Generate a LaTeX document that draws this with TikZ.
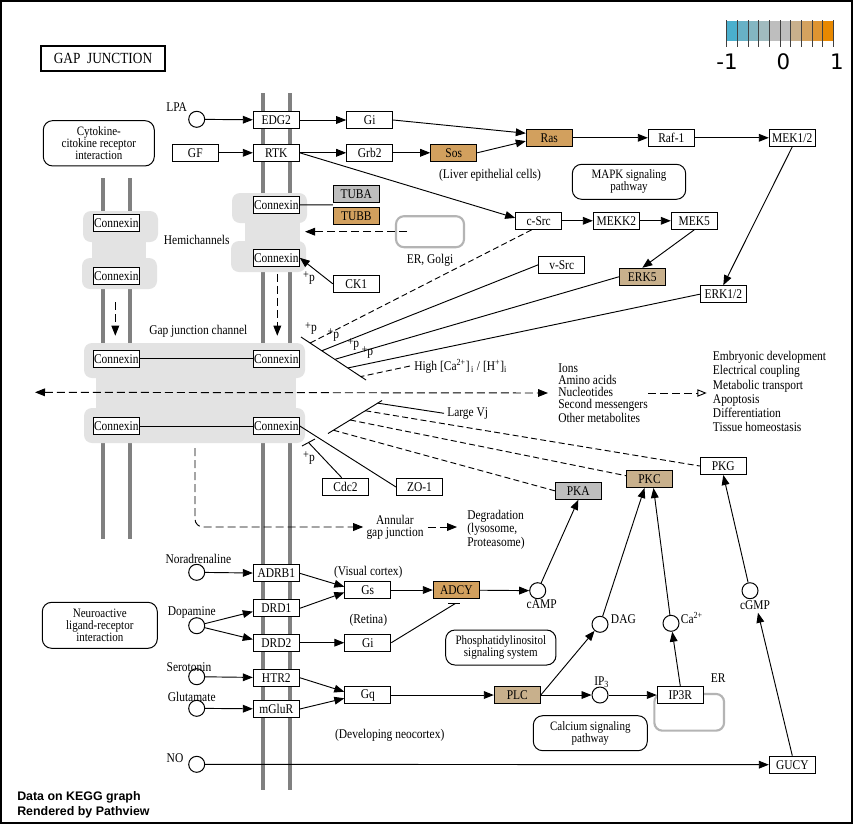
\documentclass[tikz,border=0pt]{standalone}
\usepackage{fontspec}
\setmainfont{Liberation Serif}[FakeStretch=0.86]
\newfontfamily\legfont{DejaVu Sans}
\newfontfamily\pvfont{Liberation Sans}
\usetikzlibrary{arrows.meta,calc}
\definecolor{up2}{HTML}{D2A05E}
\definecolor{up1}{HTML}{C8B08C}
\definecolor{nd}{HTML}{BEBEBE}
\definecolor{blob}{HTML}{E3E3E3}
\definecolor{ergray}{HTML}{B4B4B4}
\definecolor{membr}{HTML}{808080}
\newcommand{\plusp}{\raisebox{1.6pt}{\fontsize{9}{9}\selectfont+}p}
\begin{document}
\begin{tikzpicture}[x=0.75pt,y=-0.75pt,
  every node/.style={font=\fontsize{10}{10}\selectfont, inner sep=0pt},
  gene/.style={draw, line width=0.75pt, fill=white, minimum width=34.5pt, minimum height=12.75pt},
  cpd/.style={circle, draw, line width=0.75pt, fill=white, minimum size=12pt},
  pathbox/.style={draw, line width=0.75pt, rounded corners=7pt, align=center, font=\fontsize{9.6}{8.9}\selectfont},
  lbl/.style={align=center},
  conn/.style={line width=0.7pt},
  arr/.style={conn, -{Triangle[length=7.5pt,width=5.8pt]}},
  dconn/.style={conn, dash pattern=on 4.5pt off 2.5pt},
  darr/.style={conn, dash pattern=on 6pt off 3pt, -{Triangle[length=7.5pt,width=5.8pt]}},
  membrane/.style={membr, line width=3pt},
  ergbox/.style={draw=ergray, line width=1.6pt, rounded corners=6pt}
]
\useasboundingbox (0,0) rectangle (855,825);
\fill[white] (0,0) rectangle (855,825);
\draw[line width=1.5pt] (1,1) rectangle (852,822.5);

% membranes
\foreach \x in {263,290} \draw[membrane] (\x,93) -- (\x,790);
\foreach \x in {103,130} \draw[membrane] (\x,178) -- (\x,539);

% grey blobs
\fill[blob, rounded corners=6pt] (83,211) rectangle (158,242);
\fill[blob] (92,240) rectangle (146,260);
\fill[blob, rounded corners=6pt] (82,258) rectangle (157,289);
\fill[blob, rounded corners=6pt] (232,193) rectangle (307,223);
\fill[blob] (245,221) rectangle (300,243);
\fill[blob, rounded corners=6pt] (231,241) rectangle (306,272);
\fill[blob, rounded corners=6pt] (84,343) rectangle (305,378);
\fill[blob] (96,376) rectangle (296,410);
\fill[blob, rounded corners=6pt] (84,408) rectangle (305,443);

% ER compartments
\node[ergbox, minimum width=68*0.75pt, minimum height=31*0.75pt] (ERG) at (430,231.7) {};
\node[ergbox, minimum width=69.7*0.75pt, minimum height=36.7*0.75pt] (ER2) at (689.2,712.3) {};

% title
\node[draw, line width=1.5pt, minimum width=124.6*0.75pt, minimum height=25*0.75pt, font=\fontsize{11.6}{12}\selectfont] (title) at (103,58.5) {GAP\ \ JUNCTION};

% legend
\foreach \c [count=\i from 0] in {4AAFCD,68B1C6,84B6C2,A1BBBF,BEBEBE,BEBEBE,C9B08C,D4A25F,DE9431,E88800} {
  \definecolor{lc}{HTML}{\c}
  \fill[lc] ({726.7+10.67*\i},20.7) rectangle ({726.7+10.67*(\i+1)},40.7);
}
\foreach \i in {0,...,10} \draw[black!75, line width=0.6pt] ({726.7+10.67*\i},20) -- ({726.7+10.67*\i},46.5);
\node[font=\legfont\fontsize{16}{18}\selectfont] (lm1) at (727,61.7) {-1};
\node[font=\legfont\fontsize{16}{18}\selectfont] (l0) at (783.3,61.7) {0};
\node[font=\legfont\fontsize{16}{18}\selectfont] (lp1) at (837,61.7) {1};

% pathway boxes
\node[pathbox, minimum width=111*0.75pt, minimum height=45.3*0.75pt] (cyto) at (98.8,143.3) {Cytokine-\\citokine receptor\\interaction};
\node[pathbox, minimum width=113.4*0.75pt, minimum height=35*0.75pt] (mapk) at (629,181.8) {MAPK signaling\\pathway};
\node[pathbox, minimum width=115*0.75pt, minimum height=46*0.75pt] (neuro) at (99.8,625.3) {Neuroactive\\ligand-receptor\\interaction};
\node[pathbox, minimum width=110.3*0.75pt, minimum height=35*0.75pt] (phos) at (500.8,647.5) {Phosphatidylinositol\\signaling system};
\node[pathbox, minimum width=114*0.75pt, minimum height=35*0.75pt] (calc) at (590.3,733.2) {Calcium signaling\\pathway};

% genes
\node[gene] (EDG2) at (276.3,120) {EDG2};
\node[gene] (Gi1) at (369.7,120) {Gi};
\node[gene] (GF) at (195.3,152.8) {GF};
\node[gene] (RTK) at (276.3,152.8) {RTK};
\node[gene] (Grb2) at (369.7,152.8) {Grb2};
\node[gene,fill=up2] (Sos) at (453.7,152.8) {Sos};
\node[gene,fill=up2] (Ras) at (549.3,137.8) {Ras};
\node[gene] (Raf) at (671.3,137.8) {Raf-1};
\node[gene] (MEK12) at (792.3,137.8) {MEK1/2};
\node[gene] (cSrc) at (538.7,220.8) {c-Src};
\node[gene] (MEKK2) at (616.3,220.8) {MEKK2};
\node[gene] (MEK5) at (694.3,220.8) {MEK5};
\node[gene] (vSrc) at (561.7,264.8) {v-Src};
\node[gene,fill=up1] (ERK5) at (642.3,276.8) {ERK5};
\node[gene] (ERK12) at (723.3,294.2) {ERK1/2};
\node[gene,fill=nd] (TUBA) at (356.3,193.8) {TUBA};
\node[gene,fill=up2] (TUBB) at (356.3,215.8) {TUBB};
\node[gene] (CK1) at (356.3,283.8) {CK1};
\node[gene] (CxH1) at (276.3,204.8) {Connexin};
\node[gene] (CxH2) at (276.3,257.8) {Connexin};
\node[gene] (CxL1) at (116.3,222.8) {Connexin};
\node[gene] (CxL2) at (116.3,276) {Connexin};
\node[gene] (CxG1) at (116.3,358.7) {Connexin};
\node[gene] (CxG2) at (276.3,358.7) {Connexin};
\node[gene] (CxG3) at (116.3,426) {Connexin};
\node[gene] (CxG4) at (276.3,426) {Connexin};
\node[gene] (Cdc2) at (345.5,486.7) {Cdc2};
\node[gene] (ZO1) at (419.5,487) {ZO-1};
\node[gene,fill=nd] (PKA) at (578.3,490.8) {PKA};
\node[gene,fill=up1] (PKC) at (649.5,479) {PKC};
\node[gene] (PKG) at (723.3,466) {PKG};
\node[gene] (ADRB1) at (276.3,573.3) {ADRB1};
\node[gene] (DRD1) at (276.3,608.3) {DRD1};
\node[gene] (DRD2) at (276.3,642.7) {DRD2};
\node[gene] (HTR2) at (276.3,677.7) {HTR2};
\node[gene] (mGluR) at (276.3,709) {mGluR};
\node[gene] (Gs) at (367.8,590) {Gs};
\node[gene] (Gi2) at (367.8,642.7) {Gi};
\node[gene] (Gq) at (367.8,695) {Gq};
\node[gene,fill=up2] (ADCY) at (456.3,590) {ADCY};
\node[gene,fill=up1] (PLC) at (517.3,695) {PLC};
\node[gene] (IP3R) at (680.3,695) {IP3R};
\node[gene] (GUCY) at (792.3,764.7) {GUCY};

% compounds
\node[cpd] (LPA) at (196.7,119.3) {};
\node[cpd] (Nor) at (196.7,572.3) {};
\node[cpd] (Dop) at (196.7,625.7) {};
\node[cpd] (Ser) at (196.7,676.7) {};
\node[cpd] (Glu) at (196.7,708.3) {};
\node[cpd] (NO) at (196.7,764.3) {};
\node[cpd] (cAMP) at (537.7,590.7) {};
\node[cpd] (DAG) at (600,624.3) {};
\node[cpd] (Ca) at (671,623.3) {};
\node[cpd] (cGMP) at (750,590.7) {};
\node[cpd] (IP3) at (600,695) {};

% labels
\node (tLPA) at (176.7,106.7) {LPA};
\node (tNor) at (198.3,559) {Noradrenaline};
\node (tDop) at (191.7,612.7) {Dopamine};
\node (tSer) at (189,666.7) {Serotonin};
\node (tGlu) at (191.7,696.7) {Glutamate};
\node (tNO) at (175,758.3) {NO};
\node (tcAMP) at (541.7,604.3) {cAMP};
\node[anchor=west] (tDAG) at (610.7,619.3) {DAG};
\node[anchor=west] (tCa) at (680.7,618.3) {Ca\textsuperscript{2+}};
\node (tcGMP) at (755,605) {cGMP};
\node (tIP3) at (601.7,681.7) {IP\textsubscript{3}};
\node (tER) at (718.3,678.3) {ER};
\node (tERG) at (430,260) {ER, Golgi};
\node (tLiver) at (490,175.7) {(Liver epithelial cells)};
\node (tHemi) at (196.7,240) {Hemichannels};
\node (tGJC) at (198.3,331.7) {Gap junction channel};
\node (tVis) at (368.3,572.3) {(Visual cortex)};
\node (tRet) at (368.3,620) {(Retina)};
\node (tDev) at (389.7,735) {(Developing neocortex)};
\node (pCK) at (309,278) {\plusp};
\node (p1) at (311,328.3) {\plusp};
\node (p2) at (333.3,335) {\plusp};
\node (p3) at (353.3,344.3) {\plusp};
\node (p4) at (367.3,352.7) {\plusp};
\node (pCdc) at (309,458) {\plusp};
\node[anchor=west] (High) at (414,366) {High [Ca\textsuperscript{2+}]\textsubscript{\,i} / [H\textsuperscript{+}]\textsubscript{i}};
\node[anchor=west] (LVj) at (447,413.3) {Large Vj};
\node[anchor=west, align=left, font=\fontsize{10}{9}\selectfont] (Ions) at (558,393) {Ions\\Amino acids\\Nucleotides\\Second messengers\\Other metabolites};
\node[anchor=west, align=left, font=\fontsize{10}{10.7}\selectfont] (Emb) at (712.7,391.7) {Embryonic development\\Electrical coupling\\Metabolic transport\\Apoptosis\\Differentiation\\Tissue homeostasis};
\node[align=center, font=\fontsize{10}{8.8}\selectfont] (Ann) at (395,527) {Annular\\gap junction};
\node[anchor=west, align=left, font=\fontsize{10}{8.8}\selectfont] (Deg) at (467,529.5) {Degradation\\(lysosome,\\Proteasome)};
\node[anchor=west, align=left, font=\pvfont\bfseries\fontsize{9.3}{11.25}\selectfont] (pv) at (17,804.5) {Data on KEGG graph\\Rendered by Pathview};

% coordinates
\coordinate (hcR) at (305,231.7);
\coordinate (gjL) at (35,392.3);
\coordinate (annS) at (195,448);
\coordinate (b1a) at (301,337);
\coordinate (b1b) at (366,380);
\coordinate (b2a) at (328,433.5);
\coordinate (b2b) at (382,400.5);
\coordinate (b3a) at (302,446);
\coordinate (b3b) at (315,439);

% top signalling
\draw[arr] (LPA) -- (EDG2);
\draw[arr] (EDG2) -- (Gi1);
\draw[arr] (GF) -- (RTK);
\draw[arr] (RTK) -- (Grb2);
\draw[arr] (Grb2) -- (Sos);
\draw[arr] (Gi1.east) -- (Ras.169);
\draw[arr] (Sos.east) -- (Ras.188);
\draw[arr] (RTK.east) -- (cSrc.173);
\draw[arr] (Ras) -- (Raf);
\draw[arr] (Raf) -- (MEK12);
\draw[arr] (MEK12.south) -- (ERK12.north);
\draw[arr] (cSrc) -- (MEKK2);
\draw[arr] (MEKK2) -- (MEK5);
\draw[arr] (MEK5.south) -- (ERK5.north);
\draw[conn] (CxH1.east) -- ($(TUBA.south west)!0.5!(TUBB.north west)$);
\draw[arr] (CK1.west) -- (CxH2.east);
\draw[darr] ($(ERG.center)+(-23,0)$) -- (hcR);

% hemichannel to channel
\draw[darr] ($(CxL2.south)+(-1,17)$) -- ($(CxG1.north)+(-1,-14)$);
\draw[darr] ($(CxH2.south)+(1,7)$) -- ($(CxG2.north)+(1,-14)$);
\draw[conn] (CxG1) -- (CxG2);
\draw[conn] (CxG3) -- (CxG4);

% phosphorylation bar 1
\draw[conn] (b1a) -- (b1b);
\draw[dconn] ($(cSrc.south west)!0.35!(cSrc.south east)$) -- ($(b1a)!0.14!(b1b)$);
\draw[conn] (vSrc.west) -- ($(b1a)!0.32!(b1b)$);
\draw[conn] (ERK5.west) -- ($(b1a)!0.52!(b1b)$);
\draw[conn] (ERK12.west) -- ($(b1a)!0.72!(b1b)$);
\draw[dconn] ($(High.west)+(-4,0)$) -- ($(b1a)!0.92!(b1b)$);

% bar 2
\draw[conn] (b2a) -- (b2b);
\draw[conn] ($(b2a)!0.92!(b2b)$) -- ($(LVj.west)+(-3,0)$);
\draw[dconn] ($(b2a)!0.69!(b2b)$) -- (PKG.west);
\draw[dconn] ($(b2a)!0.41!(b2b)$) -- (PKC.172);
\draw[dconn] ($(b2a)!0.10!(b2b)$) -- (PKA.west);

% Cdc2 / ZO-1
\draw[conn] (b3a) -- (b3b);
\draw[conn] ($(b3a)!0.5!(b3b)$) -- ($(Cdc2.north west)!0.42!(Cdc2.north east)$);
\draw[conn] (CxG4.east) -- (ZO1.west);

% transport
\draw[conn, dash pattern=on 6pt off 3pt, {Triangle[length=7.5pt,width=5.8pt]}-{Triangle[length=7.5pt,width=5.8pt]}] (gjL) -- ($(Ions.west)+(-10,0)$);
\draw[conn, dash pattern=on 6pt off 3pt, -{Triangle[open,length=7pt,width=5.5pt]}] (Ions.east) -- ($(Ions.east -| Emb.west)+(-6,0)$);
\draw[darr, rounded corners=6pt] (annS) |- ($(Ann.west)+(-3,0)$);
\draw[darr] ($(Ann.east)+(4,0)$) -- ($(Ann.east -| Deg.west)+(-10,0)$);

% lower signalling
\draw[arr] (Nor) -- (ADRB1);
\draw[arr] (Dop) -- (DRD1.188);
\draw[arr] (Dop) -- (DRD2.172);
\draw[arr] (Ser) -- (HTR2);
\draw[arr] (Glu) -- (mGluR);
\draw[arr] (ADRB1.east) -- (Gs.172);
\draw[arr] (DRD1.east) -- (Gs.186);
\draw[arr] (DRD2) -- (Gi2);
\draw[arr] (HTR2.east) -- (Gq.172);
\draw[arr] (mGluR.east) -- (Gq.188);
\draw[arr] (Gs) -- (ADCY);
\coordinate (inh) at ($(ADCY.south)+(-1,4.5)$);
\draw[conn] (Gi2.east) -- (inh);
\draw[conn] ($(inh)+(-7,0)$) -- ($(inh)+(5,0)$);
\draw[arr] (ADCY) -- (cAMP);
\draw[arr] (cAMP) -- (PKA.south);
\draw[arr] (Gq) -- (PLC);
\draw[arr] (PLC.east) -- (DAG);
\draw[arr] (PLC) -- (IP3);
\draw[arr] (IP3) -- (IP3R);
\draw[arr] (IP3R.north) -- (Ca);
\draw[arr] (DAG) -- ($(PKC.south)+(-5,0)$);
\draw[arr] (Ca) -- ($(PKC.south)+(4,0)$);
\draw[arr] (cGMP) -- (PKG.south);
\draw[arr] (GUCY.north) -- ($(tcGMP.south)+(3,3)$);
\draw[arr] (NO) -- (GUCY);
\end{tikzpicture}
\end{document}
